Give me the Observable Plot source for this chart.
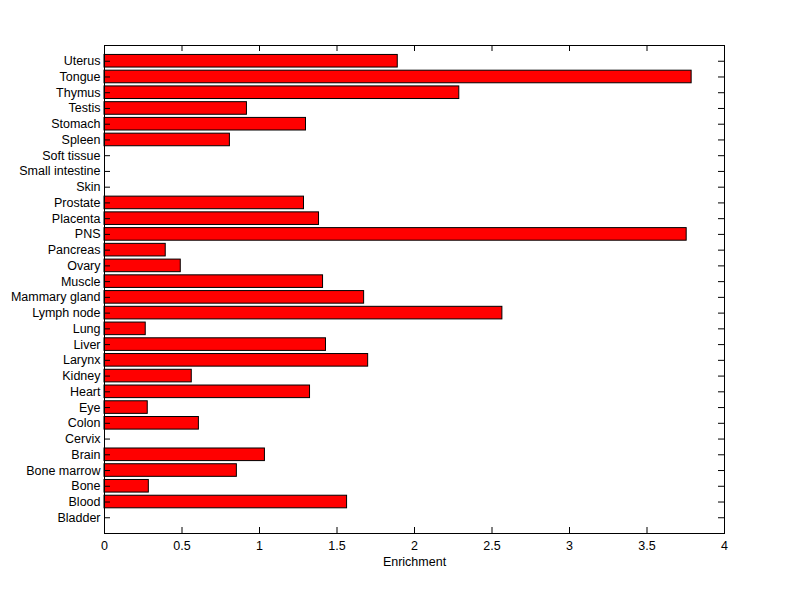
<!DOCTYPE html>
<html>
<head>
<meta charset="utf-8">
<script src="https://cdn.jsdelivr.net/npm/d3@7"></script>
<script src="https://cdn.jsdelivr.net/npm/@observablehq/plot@0.6"></script>
<style>
  html, body { margin: 0; padding: 0; background: #ffffff; }
  #chart svg { display: block; }
</style>
</head>
<body>
<div id="chart"></div>
<script>
// Categories from bottom (Bladder) to top (Uterus)
const tissues = ["Bladder", "Blood", "Bone", "Bone marrow", "Brain", "Cervix", "Colon", "Eye", "Heart", "Kidney",
  "Larynx", "Liver", "Lung", "Lymph node", "Mammary gland", "Muscle", "Ovary", "Pancreas", "PNS", "Placenta",
  "Prostate", "Skin", "Small intestine", "Soft tissue", "Spleen", "Stomach", "Testis", "Thymus", "Tongue", "Uterus"];
const enrichment = [0, 1.565, 0.286, 0.854, 1.035, 0, 0.609, 0.279, 1.326, 0.563,
  1.701, 1.429, 0.266, 2.567, 1.675, 1.410, 0.492, 0.395, 3.756, 1.384,
  1.287, 0, 0, 0, 0.809, 1.300, 0.919, 2.289, 3.788, 1.892];
const xTicks = [0, 0.5, 1, 1.5, 2, 2.5, 3, 3.5, 4];

const data = tissues.map((t, i) => ({tissue: t, value: enrichment[i]}));
const domainY = tissues.slice().reverse();

const W = 800, H = 599;
const mL = 104, mR = 76, mT = 45, mB = 66;
const frameW = W - mL - mR, frameH = H - mT - mB;
const tick = 6;

const chart = Plot.plot({
  width: W,
  height: H,
  marginLeft: mL,
  marginRight: mR,
  marginTop: mT,
  marginBottom: mB,
  style: {fontFamily: "'Liberation Sans', Arial, sans-serif", fontSize: "12.5px", color: "#000", background: "#fff"},
  x: {domain: [0, 4]},
  y: {domain: domainY, paddingInner: 0.2, paddingOuter: 0.6, align: 0.5, round: false},
  marks: [
    Plot.barX(data.filter(d => d.value > 0), {x: "value", y: "tissue", fill: "#ff0000", stroke: "#000", strokeWidth: 1}),
    // inward ticks, x top & bottom
    Plot.ruleX(xTicks, {x: d => d, insetBottom: frameH - tick, stroke: "#000"}),
    Plot.ruleX(xTicks, {x: d => d, insetTop: frameH - tick, stroke: "#000"}),
    // inward ticks, y left & right
    Plot.ruleY(domainY, {y: d => d, insetRight: frameW - tick, stroke: "#000"}),
    Plot.ruleY(domainY, {y: d => d, insetLeft: frameW - tick, stroke: "#000"}),
    Plot.frame({stroke: "#000"}),
    Plot.axisX({ticks: xTicks, tickSize: 0, tickPadding: 8, tickFormat: d => String(d),
      label: "Enrichment", labelAnchor: "center", labelArrow: "none", labelOffset: 32, fontSize: "12.5px"}),
    Plot.axisY({tickSize: 0, tickPadding: 4, label: null, fontSize: "12.5px"})
  ]
});
document.getElementById("chart").appendChild(chart);
</script>
</body>
</html>
